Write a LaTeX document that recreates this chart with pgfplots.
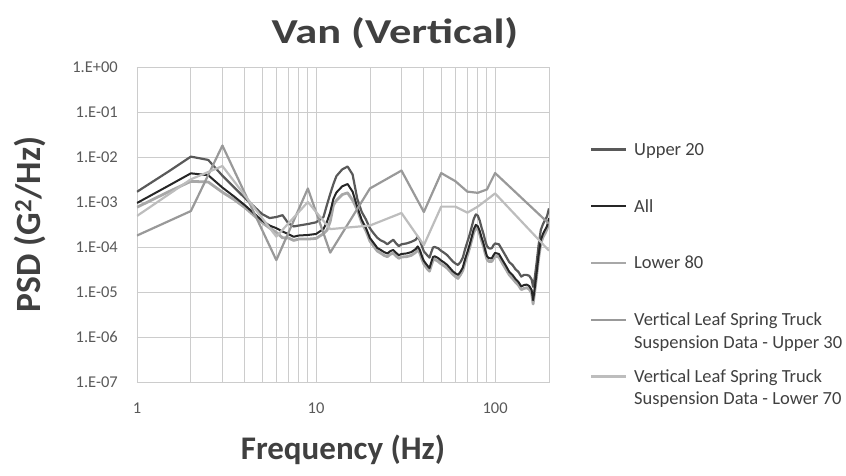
\documentclass[border=0pt]{standalone}
\usepackage{fontspec}
\setmainfont{Carlito}
\usepackage{graphicx}
\usepackage{pgfplots}
\pgfplotsset{compat=1.18}
\definecolor{cU20}{HTML}{595959}
\definecolor{cAll}{HTML}{262626}
\definecolor{cL80}{HTML}{A8A8A8}
\definecolor{cU30}{HTML}{999999}
\definecolor{cL70}{HTML}{BDBDBD}
\definecolor{cGrid}{HTML}{CCCCCC}
\definecolor{cTxt}{HTML}{404040}
\definecolor{cTick}{HTML}{595959}
\newcommand{\legpar}[1]{\parbox[t]{210pt}{#1}}
\begin{document}
\begin{tikzpicture}
\useasboundingbox (-137pt,-93pt) rectangle (709pt,382pt);
\begin{loglogaxis}[
  scale only axis, width=412pt, height=315pt,
  xmin=1, xmax=200, ymin=1e-7, ymax=1,
  xtick={1,10,100}, xticklabels={1,10,100},
  ytick={1e-7,1e-6,1e-5,1e-4,1e-3,1e-2,1e-1,1},
  yticklabels={1.E-07,1.E-06,1.E-05,1.E-04,1.E-03,1.E-02,1.E-01,1.E+00},
  yminorticks=false,
  xmajorgrids, xminorgrids, ymajorgrids,
  grid style={draw=cGrid, line width=0.9pt},
  minor grid style={draw=cGrid, line width=0.9pt},
  axis line style={draw=cGrid, line width=0.9pt},
  major tick length=0pt, minor tick length=0pt,
  tick label style={font=\fontsize{16.5}{18}\selectfont, text=cTick, inner sep=0pt},
  yticklabel style={anchor=east, xshift=-19pt},
  xticklabel style={anchor=north, yshift=-21pt},
  title={\scalebox{1.27}[1]{Van (Vertical)}},
  title style={font=\fontsize{35}{38}\selectfont\bfseries, text=cTxt, at={(axis description cs:0.626,1.089)}, anchor=center, inner sep=0pt},
  xlabel={Frequency (Hz)},
  xlabel style={font=\fontsize{33}{36}\selectfont\bfseries, text=cTxt, at={(axis description cs:0.5,-0.216)}, anchor=center, inner sep=0pt},
  ylabel={PSD (G\textsuperscript{2}/Hz)},
  ylabel style={font=\fontsize{35.5}{38}\selectfont\bfseries, text=cTxt, at={(axis description cs:-0.26,0.5)}, anchor=center, inner sep=0pt},
  legend image code/.code={\draw[#1] (0pt,6pt) -- (35pt,6pt);},
  legend style={at={(rel axis cs:1,1)}, anchor=north west, xshift=41pt, yshift=-76.4pt,
    draw=none, fill=none, inner sep=0pt, outer sep=0pt, row sep=42.5pt, column sep=7pt,
    font=\fontsize{18.5}{22.4}\selectfont, text=cTxt,
    nodes={inner sep=0pt, anchor=base west}},
  legend cell align=left,
]
\addlegendimage{cU20, line width=2.2pt}
\addlegendentry{\legpar{Upper 20}}
\addlegendimage{cAll, line width=2.2pt}
\addlegendentry{\legpar{All}}
\addlegendimage{cL80, line width=2.2pt}
\addlegendentry{\legpar{Lower 80}}
\addlegendimage{cU30, line width=2.2pt}
\addlegendentry{\legpar{Vertical Leaf Spring Truck\\Suspension Data - Upper 30}}
\addlegendimage{cL70, line width=2.2pt}
\addlegendentry{\legpar{Vertical Leaf Spring Truck\\Suspension Data - Lower 70}}

% Lower 80
\addplot[cL80, line width=2.8pt, line join=round, forget plot] coordinates {
(1,7.65e-4) (1.5,1.69e-3) (2,2.88e-3) (2.5,2.78e-3) (3,1.65e-3) (3.5,1.12e-3) (4,7.55e-4)
(5,3.48e-4) (5.5,2.65e-4) (6,2.11e-4) (6.5,1.6e-4) (7,1.59e-4) (7.5,1.40e-4) (8,1.50e-4)
(9,1.50e-4) (10,1.55e-4) (11,1.98e-4) (11.5,2.35e-4) (12,3.7e-4) (12.5,8.5e-4) (13,1.09e-3)
(14,1.46e-3) (15,1.6e-3) (16,1.1e-3) (17,6.7e-4) (18,3.48e-4) (19,2.29e-4)
(20,1.35e-4) (21,1.04e-4) (22,8.1e-5) (23,7.3e-5) (24,6.5e-5) (25,6.1e-5) (26,6.9e-5)
(27,7.3e-5) (28,6.3e-5) (29,5.6e-5) (30,6.0e-5) (32,6.1e-5) (34,6.5e-5) (36,7.6e-5)
(37,8.8e-5) (38,7.3e-5) (39,5.4e-5) (40,4.2e-5) (42,3.2e-5) (43,2.9e-5) (44,3.9e-5)
(45,5.1e-5) (46,5.3e-5) (48,4.8e-5) (50,4.2e-5) (52,3.8e-5) (54,3.4e-5) (56,2.9e-5)
(58,2.5e-5) (60,2.2e-5) (62,2.0e-5) (64,2.4e-5) (66,3.0e-5) (68,4.6e-5) (70,6.5e-5)
(72,9.4e-5) (74,1.42e-4) (76,2.1e-4) (78,2.6e-4) (80,2.5e-4) (82,1.95e-4) (84,1.39e-4)
(86,1.05e-4) (88,7.3e-5) (90,5.4e-5) (92,4.8e-5) (94,4.8e-5) (96,4.8e-5) (98,5.6e-5)
(100,6.3e-5) (105,6.0e-5) (110,4.3e-5) (115,3.2e-5) (120,2.4e-5) (125,2.0e-5) (130,1.66e-5)
(135,1.42e-5) (140,1.13e-5) (145,1.2e-5) (150,1.24e-5) (155,1.16e-5) (160,9.4e-6) (163,5.4e-6)
(166,9.4e-6) (170,2.0e-5) (175,5.6e-5) (180,1.2e-4) (185,1.65e-4) (190,2.0e-4) (195,2.5e-4) (200,3.7e-4)
};
% Upper 20
\addplot[cU20, line width=2.2pt, line join=round, forget plot] coordinates {
(1,1.69e-3) (1.5,4.76e-3) (2,1.02e-2) (2.5,8.6e-3) (3,3.84e-3) (3.5,2.08e-3) (4,1.23e-3)
(5,5.4e-4) (5.5,4.4e-4) (6,4.64e-4) (6.5,5.1e-4) (7,3.36e-4) (7.5,2.86e-4) (8,3.0e-4)
(9,3.24e-4) (10,3.54e-4) (11,4.64e-4) (11.5,8.6e-4) (12,1.51e-3) (12.5,2.51e-3) (13,3.78e-3)
(14,5.3e-3) (15,6.15e-3) (16,4.08e-3) (17,1.17e-3) (18,6.0e-4) (19,4.08e-4)
(20,2.6e-4) (21,2.0e-4) (22,1.6e-4) (23,1.4e-4) (24,1.3e-4) (25,1.15e-4) (26,1.3e-4)
(27,1.45e-4) (28,1.2e-4) (29,1.05e-4) (30,1.15e-4) (32,1.2e-4) (34,1.3e-4) (36,1.45e-4)
(37,1.7e-4) (38,1.4e-4) (39,1.05e-4) (40,8.0e-5) (42,6.4e-5) (43,5.8e-5) (44,7.6e-5)
(45,9.8e-5) (46,1.0e-4) (48,9.4e-5) (50,8.2e-5) (52,7.4e-5) (54,6.6e-5) (56,5.6e-5)
(58,4.8e-5) (60,4.3e-5) (62,4.0e-5) (64,4.6e-5) (66,5.8e-5) (68,9.0e-5) (70,1.3e-4)
(72,1.85e-4) (74,2.8e-4) (76,4.2e-4) (78,5.3e-4) (80,5.0e-4) (82,3.9e-4) (84,2.7e-4)
(86,2.0e-4) (88,1.4e-4) (90,1.05e-4) (92,9.5e-5) (94,9.2e-5) (96,9.5e-5) (98,1.1e-4)
(100,1.2e-4) (105,1.15e-4) (110,8.4e-5) (115,6.2e-5) (120,4.6e-5) (125,4.0e-5) (130,3.2e-5)
(135,2.8e-5) (140,2.2e-5) (145,2.4e-5) (150,2.4e-5) (155,2.3e-5) (160,1.9e-5) (163,1.3e-5)
(166,1.9e-5) (170,4.0e-5) (175,1.1e-4) (180,2.4e-4) (185,3.2e-4) (190,4.0e-4) (195,4.8e-4) (200,7.2e-4)
};
% All
\addplot[cAll, line width=2pt, line join=round, forget plot] coordinates {
(1,9.5e-4) (1.5,2.30e-3) (2,4.34e-3) (2.5,3.94e-3) (3,2.09e-3) (3.5,1.31e-3) (4,8.5e-4)
(5,3.86e-4) (5.5,3.0e-4) (6,2.62e-4) (6.5,2.21e-4) (7,1.94e-4) (7.5,1.69e-4) (8,1.80e-4)
(9,1.85e-4) (10,1.95e-4) (11,2.51e-4) (11.5,3.6e-4) (12,6.0e-4) (12.5,1.18e-3) (13,1.63e-3)
(14,2.23e-3) (15,2.51e-3) (16,1.70e-3) (17,7.7e-4) (18,3.98e-4) (19,2.65e-4)
(20,1.58e-4) (21,1.22e-4) (22,9.5e-5) (23,8.6e-5) (24,7.7e-5) (25,7.2e-5) (26,8.1e-5)
(27,8.6e-5) (28,7.4e-5) (29,6.6e-5) (30,7.0e-5) (32,7.2e-5) (34,7.7e-5) (36,9.0e-5)
(37,1.03e-4) (38,8.6e-5) (39,6.3e-5) (40,4.9e-5) (42,3.8e-5) (43,3.4e-5) (44,4.6e-5)
(45,6.0e-5) (46,6.2e-5) (48,5.7e-5) (50,5.0e-5) (52,4.5e-5) (54,4.0e-5) (56,3.4e-5)
(58,2.9e-5) (60,2.6e-5) (62,2.4e-5) (64,2.8e-5) (66,3.5e-5) (68,5.4e-5) (70,7.7e-5)
(72,1.11e-4) (74,1.67e-4) (76,2.5e-4) (78,3.1e-4) (80,2.9e-4) (82,2.3e-4) (84,1.63e-4)
(86,1.23e-4) (88,8.6e-5) (90,6.3e-5) (92,5.7e-5) (94,5.6e-5) (96,5.7e-5) (98,6.6e-5)
(100,7.4e-5) (105,7.0e-5) (110,5.1e-5) (115,3.8e-5) (120,2.8e-5) (125,2.4e-5) (130,1.95e-5)
(135,1.67e-5) (140,1.33e-5) (145,1.43e-5) (150,1.46e-5) (155,1.36e-5) (160,1.11e-5) (163,6.6e-6)
(166,1.11e-5) (170,2.4e-5) (175,6.6e-5) (180,1.43e-4) (185,1.95e-4) (190,2.4e-4) (195,2.9e-4) (200,4.4e-4)
};
% Vertical Leaf Spring Truck - Upper 30
\addplot[cU30, line width=2.2pt, line join=round, forget plot] coordinates {
(1,1.8e-4) (2,6.3e-4) (3,1.8e-2) (6,5.1e-5) (9,2.0e-3) (12,7.5e-5) (20,2.0e-3) (30,5.0e-3)
(40,6.0e-4) (50,4.4e-3) (60,2.9e-3) (70,1.7e-3) (80,1.6e-3) (90,1.9e-3) (100,4.4e-3) (200,3.3e-4)
};
% Vertical Leaf Spring Truck - Lower 70
\addplot[cL70, line width=2.2pt, line join=round, forget plot] coordinates {
(1,4.9e-4) (2,3.2e-3) (3,6.3e-3) (6,1.7e-4) (9,1.0e-3) (12,2.5e-4) (20,3.0e-4) (30,5.7e-4)
(40,1.1e-4) (50,7.9e-4) (60,7.9e-4) (70,5.8e-4) (80,7.9e-4) (100,1.55e-3) (200,8.3e-5)
};
\end{loglogaxis}
\end{tikzpicture}
\end{document}
